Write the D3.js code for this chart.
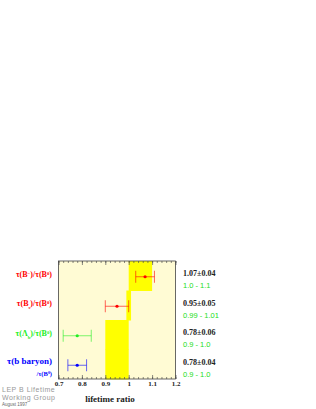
<!DOCTYPE html>
<html>
<head>
<meta charset="utf-8">
<script src="https://cdn.jsdelivr.net/npm/d3@7"></script>
<style>
  html, body { margin: 0; padding: 0; background: #fff; }
  svg { display: block; }
  .serif { font-family: "Liberation Serif", "DejaVu Serif", serif; font-weight: bold; }
  .sans { font-family: "Liberation Sans", "DejaVu Sans", sans-serif; }
</style>
</head>
<body>
<svg id="chart" width="316" height="409"></svg>
<script>
/* ============================================================
   DATA
============================================================ */
const ratios = ["B-", "Bs", "Lb", "bbaryon"];
const values = [1.07, 0.95, 0.78, 0.78];
const errors = [0.04, 0.05, 0.06, 0.04];
const bandLow = [1.0, 0.99, 0.9, 0.9];
const bandHigh = [1.1, 1.01, 1.0, 1.0];
const valueLabels = ["1.07\u00b10.04", "0.95\u00b10.05", "0.78\u00b10.06", "0.78\u00b10.04"];
const rangeLabels = ["1.0 - 1.1", "0.99 - 1.01", "0.9 - 1.0", "0.9 - 1.0"];
const rowColors = ["#ff0000", "#ff0000", "#22ee22", "#0000ff"];
const xTicks = [0.7, 0.8, 0.9, 1.0, 1.1, 1.2];

/* ============================================================
   SCALES
============================================================ */
const svg = d3.select("#chart");
const x = d3.scaleLinear().domain([0.7, 1.2]).range([58.5, 175.5]);
const y = d3.scaleBand().domain(ratios).range([261, 379]);
const frameTop = 261, frameBottom = 379;

// background
svg.append("rect")
  .attr("x", x(0.7)).attr("y", frameTop)
  .attr("width", x(1.2) - x(0.7)).attr("height", frameBottom - frameTop)
  .attr("fill", "#fffbd4");

// yellow bands
svg.selectAll("rect.band")
  .data(ratios)
  .enter().append("rect")
  .attr("class", "band")
  .attr("x", (d, i) => x(bandLow[i]))
  .attr("width", (d, i) => x(bandHigh[i]) - x(bandLow[i]))
  .attr("y", d => y(d))
  .attr("height", y.bandwidth() + 0.5)
  .attr("fill", "#ffff00");

/* ============================================================
   AXES
============================================================ */
const minorTicks = d3.range(0.7, 1.2001, 0.02);

const bottomAxis = svg.append("g").attr("transform", `translate(0,${frameBottom})`);
bottomAxis.call(d3.axisBottom(x).tickValues(minorTicks).tickSize(-2).tickFormat(""));
bottomAxis.select(".domain").remove();
const bottomMajor = svg.append("g").attr("transform", `translate(0,${frameBottom})`)
  .call(d3.axisBottom(x).tickValues(xTicks).tickSize(-4).tickPadding(2.5)
    .tickFormat(d => d === 1 ? "1" : d3.format(".1f")(d)));
bottomMajor.select(".domain").remove();
bottomMajor.selectAll("text")
  .attr("font-family", "Liberation Serif, DejaVu Serif, serif")
  .attr("font-weight", "bold")
  .attr("font-size", 7)
  .attr("fill", "#222");

const topAxis = svg.append("g").attr("transform", `translate(0,${frameTop})`);
topAxis.append("g").call(d3.axisTop(x).tickValues(minorTicks).tickSize(-2).tickFormat(""));
topAxis.append("g").call(d3.axisTop(x).tickValues(xTicks).tickSize(-4).tickFormat(""));
topAxis.selectAll(".domain").remove();
svg.selectAll(".tick line").attr("stroke", "#555").attr("stroke-width", 0.7);

// frame
svg.append("rect")
  .attr("x", x(0.7)).attr("y", frameTop)
  .attr("width", x(1.2) - x(0.7)).attr("height", frameBottom - frameTop)
  .attr("fill", "none").attr("stroke", "#444").attr("stroke-width", 0.8);

/* ============================================================
   POINTS + ERROR BARS
============================================================ */
const rows = svg.selectAll("g.row")
  .data(ratios)
  .enter().append("g")
  .attr("class", "row")
  .attr("transform", d => `translate(0,${y(d) + y.bandwidth() / 2 + 1})`);

rows.append("line")
  .attr("x1", (d, i) => x(values[i] - errors[i]))
  .attr("x2", (d, i) => x(values[i] + errors[i]))
  .attr("stroke", (d, i) => rowColors[i]).attr("stroke-opacity", 0.6).attr("stroke-width", 1);

[-1, 1].forEach(s => {
  rows.append("line")
    .attr("x1", (d, i) => x(values[i] + s * errors[i]))
    .attr("x2", (d, i) => x(values[i] + s * errors[i]))
    .attr("y1", -6).attr("y2", 6)
    .attr("stroke", (d, i) => rowColors[i]).attr("stroke-opacity", 0.6).attr("stroke-width", 1);
});

rows.append("circle")
  .attr("cx", (d, i) => x(values[i]))
  .attr("r", 1.6)
  .attr("fill", (d, i) => rowColors[i]);

/* ============================================================
   LABELS
============================================================ */
const labelX = 52;
function addLabel(i, dy, parts, size) {
  const t = svg.append("text")
    .attr("class", "serif")
    .attr("x", labelX)
    .attr("y", y(ratios[i]) + y.bandwidth() / 2 + dy)
    .attr("text-anchor", "end")
    .attr("font-size", size)
    .attr("fill", rowColors[i]);
  parts.forEach(p => {
    const ts = t.append("tspan").text(p.t);
    if (p.sup) ts.attr("baseline-shift", "super").attr("font-size", size * 0.6);
    if (p.sub) ts.attr("baseline-shift", "sub").attr("font-size", size * 0.6);
  });
}
addLabel(0, 1, [{ t: "\u03c4(B" }, { t: "\u2212", sup: true }, { t: ")/\u03c4(B" }, { t: "0", sup: true }, { t: ")" }], 8);
addLabel(1, 1, [{ t: "\u03c4(B" }, { t: "s", sub: true }, { t: ")/\u03c4(B" }, { t: "0", sup: true }, { t: ")" }], 8);
addLabel(2, 1, [{ t: "\u03c4(\u039b" }, { t: "b", sub: true }, { t: ")/\u03c4(B" }, { t: "0", sup: true }, { t: ")" }], 8);
addLabel(3, -0.5, [{ t: "\u03c4(b baryon)" }], 9);
addLabel(3, 12, [{ t: "/\u03c4(B" }, { t: "0", sup: true }, { t: ")" }], 6.5);

// right side values
svg.selectAll("text.val")
  .data(ratios)
  .enter().append("text")
  .attr("class", "serif")
  .attr("x", 183)
  .attr("y", d => y(d) + y.bandwidth() / 2 + 0.5)
  .attr("font-size", 8)
  .attr("fill", "#222")
  .text((d, i) => valueLabels[i]);

svg.selectAll("text.rng")
  .data(ratios)
  .enter().append("text")
  .attr("class", "sans")
  .attr("x", 183)
  .attr("y", d => y(d) + y.bandwidth() / 2 + 12.5)
  .attr("font-size", 7.5)
  .attr("fill", "#22dd22")
  .text((d, i) => rangeLabels[i]);

// axis title
svg.append("text")
  .attr("class", "serif")
  .attr("x", 110).attr("y", 402)
  .attr("text-anchor", "middle")
  .attr("font-size", 9)
  .attr("fill", "#222")
  .text("lifetime ratio");

// group credit
const credit = svg.append("g").attr("class", "sans").attr("fill", "#999");
credit.append("text").attr("x", 2).attr("y", 391.5).attr("font-size", 7)
  .attr("letter-spacing", 0.5).text("LEP B Lifetime");
credit.append("text").attr("x", 2).attr("y", 399.5).attr("font-size", 7)
  .attr("letter-spacing", 0.5).text("Working Group");
credit.append("text").attr("x", 2).attr("y", 405.5).attr("font-size", 4.5)
  .attr("fill", "#666").text("August 1997");
</script>
</body>
</html>
